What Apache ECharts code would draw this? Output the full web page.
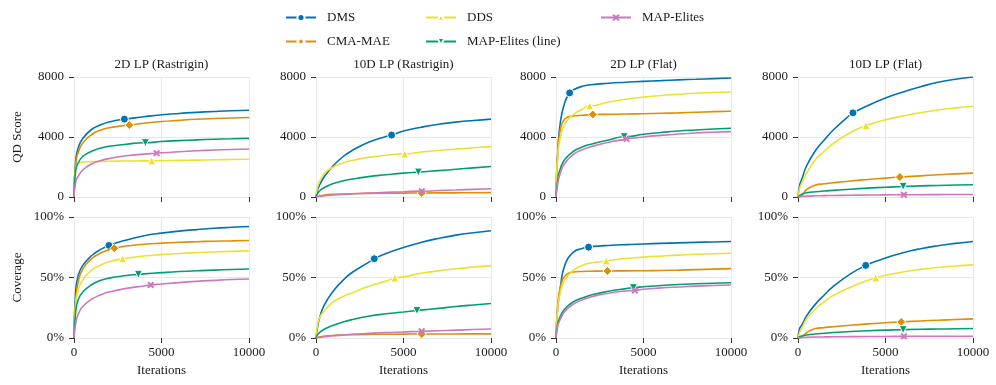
<!DOCTYPE html>
<html>
<head>
<meta charset="utf-8">
<script src="https://cdn.jsdelivr.net/npm/echarts@6/dist/echarts.min.js"></script>
<style>
html, body { margin: 0; padding: 0; background: #fff; }
#chart { width: 996px; height: 385px; }
</style>
</head>
<body>
<div id="chart"></div>
<script>
// Methods, in plotting / legend order.
const METHODS = ["DMS", "CMA-MAE", "DDS", "MAP-Elites (line)", "MAP-Elites"];
const COLORS = ["#0173b2", "#de8f05", "#ece133", "#029e73", "#cc78bc"];
const TITLES = ["2D LP (Rastrigin)", "10D LP (Rastrigin)", "2D LP (Flat)", "10D LP (Flat)"];

const ITERS = [0, 100, 250, 500, 1000, 1500, 2000, 3000, 4000, 5000, 6000, 7000, 8000, 9000, 10000];

// QD score, one row per method (METHODS order).
const QD_2D_RAST = [
    [0, 2500, 3300, 3900, 4500, 4800, 5000, 5200, 5350, 5480, 5570, 5640, 5700, 5750, 5780],
    [0, 2300, 3000, 3600, 4150, 4450, 4620, 4780, 4920, 5030, 5110, 5180, 5230, 5270, 5300],
    [0, 2000, 2250, 2330, 2360, 2370, 2380, 2400, 2410, 2420, 2440, 2460, 2480, 2500, 2520],
    [0, 1800, 2300, 2700, 3050, 3250, 3380, 3520, 3620, 3700, 3760, 3810, 3850, 3880, 3910],
    [0, 1000, 1400, 1800, 2200, 2420, 2560, 2750, 2860, 2950, 3020, 3080, 3130, 3170, 3200]
];
const QD_10D_RAST = [
    [0, 500, 900, 1400, 2100, 2650, 3050, 3650, 4030, 4400, 4650, 4850, 4990, 5100, 5190],
    [0, 40, 80, 130, 180, 205, 220, 240, 250, 260, 265, 272, 278, 284, 290],
    [0, 700, 1150, 1600, 2000, 2250, 2420, 2640, 2780, 2880, 3000, 3100, 3190, 3280, 3360],
    [0, 250, 450, 650, 900, 1060, 1180, 1360, 1480, 1590, 1670, 1760, 1850, 1940, 2030],
    [0, 40, 60, 90, 130, 170, 200, 260, 310, 350, 390, 430, 470, 510, 550]
];
const QD_2D_FLAT = [
    [0, 3000, 5000, 6300, 7150, 7380, 7480, 7580, 7650, 7710, 7760, 7810, 7850, 7890, 7930],
    [0, 3000, 4500, 5200, 5400, 5450, 5490, 5510, 5530, 5550, 5580, 5610, 5650, 5690, 5720],
    [0, 2800, 4000, 4900, 5500, 5850, 6080, 6330, 6520, 6660, 6770, 6850, 6920, 6970, 7000],
    [0, 1200, 1900, 2500, 3050, 3330, 3520, 3800, 4020, 4180, 4300, 4400, 4470, 4530, 4580],
    [0, 900, 1600, 2250, 2850, 3150, 3350, 3650, 3860, 4000, 4110, 4200, 4270, 4320, 4360]
];
const QD_10D_FLAT = [
    [0, 800, 1300, 2100, 3100, 3800, 4450, 5500, 6100, 6600, 7000, 7350, 7650, 7850, 8000],
    [0, 0, 150, 500, 800, 880, 950, 1070, 1170, 1260, 1340, 1410, 1480, 1540, 1590],
    [0, 600, 1000, 1600, 2500, 3050, 3550, 4300, 4820, 5150, 5400, 5620, 5800, 5940, 6050],
    [0, 100, 200, 280, 350, 400, 440, 520, 590, 650, 700, 740, 770, 800, 820],
    [0, 20, 40, 60, 80, 90, 100, 115, 130, 140, 150, 155, 160, 165, 170]
];

// Coverage in percent.
const COV_2D_RAST = [
    [0, 40, 52, 60, 68, 73, 76.5, 81, 84.5, 86.7, 88.3, 89.6, 90.7, 91.5, 92.2],
    [0, 32, 47, 57, 65.5, 70, 73, 76, 77.5, 78.4, 79.1, 79.6, 80, 80.3, 80.6],
    [0, 30, 40, 48, 56, 60, 63, 66, 67.8, 68.9, 69.8, 70.5, 71.1, 71.6, 72],
    [0, 22, 32, 38, 44, 47.5, 49.5, 51.6, 53, 54, 54.9, 55.6, 56.1, 56.6, 57],
    [0, 12, 20, 26, 32, 35.5, 38, 41, 43, 44.6, 45.8, 46.8, 47.6, 48.3, 48.8]
];
const COV_10D_RAST = [
    [0, 10, 19, 28, 39, 47, 53.5, 62.5, 69.8, 74.8, 79, 82.3, 85, 87, 88.6],
    [0, 0.5, 1, 1.6, 2.2, 2.5, 2.7, 3, 3.1, 3.2, 3.3, 3.3, 3.35, 3.4, 3.4],
    [0, 12, 18, 23, 30, 34, 37, 42.5, 47, 50.5, 53.5, 55.5, 57.2, 58.6, 59.8],
    [0, 3, 5, 7.5, 10.5, 13, 15, 18, 20, 21.5, 23, 24.5, 26, 27.3, 28.5],
    [0, 0.3, 0.6, 1, 1.8, 2.4, 3, 3.8, 4.5, 5, 5.5, 6, 6.5, 7, 7.5]
];
const COV_2D_FLAT = [
    [0, 25, 42, 60, 71, 74, 75.5, 76.5, 77.2, 77.7, 78.2, 78.6, 79, 79.4, 79.8],
    [0, 28, 42, 51, 54.5, 55, 55.2, 55.4, 55.5, 55.6, 55.8, 56.1, 56.5, 56.9, 57.3],
    [0, 25, 38, 48, 56, 60, 62, 64, 65.7, 66.8, 67.7, 68.5, 69.1, 69.6, 70],
    [0, 12, 18, 24, 30, 33, 35.5, 38.6, 40.8, 42.3, 43.4, 44.2, 44.8, 45.3, 45.7],
    [0, 10, 15.5, 22, 28, 31.5, 34, 37, 38.9, 40.3, 41.4, 42.2, 42.9, 43.4, 43.8]
];
const COV_10D_FLAT = [
    [0, 8, 11.5, 18.5, 28, 35.5, 42.5, 53, 60.8, 66.2, 70.5, 73.8, 76.3, 78.2, 79.8],
    [0, 0, 1, 4.5, 7.8, 8.6, 9.3, 10.6, 11.7, 12.6, 13.4, 14.1, 14.7, 15.3, 15.8],
    [0, 5, 9, 16, 24, 30, 35, 42, 47.7, 51.8, 54.6, 56.7, 58.3, 59.5, 60.4],
    [0, 1, 1.8, 2.5, 3.3, 3.9, 4.5, 5.4, 6, 6.5, 6.9, 7.2, 7.4, 7.6, 7.8],
    [0, 0.2, 0.4, 0.6, 0.8, 0.9, 1, 1.1, 1.2, 1.3, 1.35, 1.4, 1.45, 1.5, 1.5]
];

// The single marker drawn on each curve: [iteration, value].
const QD_2D_RAST_MARK = [[2880, 5190], [3160, 4800], [4440, 2410], [4080, 3620], [4720, 2920]];
const QD_10D_RAST_MARK = [[4320, 4130], [6040, 265], [5070, 2870], [5850, 1660], [6050, 380]];
const QD_2D_FLAT_MARK = [[780, 6940], [2100, 5500], [1930, 6080], [3900, 4020], [4030, 3870]];
const QD_10D_FLAT_MARK = [[3140, 5610], [5820, 1330], [3890, 4770], [6010, 710], [6050, 150]];
const COV_2D_RAST_MARK = [[2000, 76.5], [2300, 74.2], [2780, 65.4], [3680, 52.6], [4380, 43.8]];
const COV_10D_RAST_MARK = [[3330, 65.5], [6040, 3.3], [4510, 49.6], [5770, 22.7], [6040, 5.5]];
const COV_2D_FLAT_MARK = [[1860, 75.1], [2940, 55.4], [2870, 63.7], [4420, 41.6], [4510, 39.3]];
const COV_10D_FLAT_MARK = [[3870, 60], [5900, 13.3], [4440, 49.6], [6010, 6.9], [6050, 1.4]];

const FONT = "Liberation Serif";
const TEXT = "#1a1a1a";
const GRIDLINE = "#e8e8e8";

const SYMBOLS = [
    "circle",
    "diamond",
    "triangle",
    "path://M0,0L10,0L5,10Z",
    "path://M0,2L2,0L5,3L8,0L10,2L7,5L10,8L8,10L5,7L2,10L0,8L3,5Z"
];
const SYMBOL_SIZES = [8, 9, 8, 8, 7];

const PANELS = [
    [QD_2D_RAST, QD_2D_RAST_MARK], [QD_10D_RAST, QD_10D_RAST_MARK],
    [QD_2D_FLAT, QD_2D_FLAT_MARK], [QD_10D_FLAT, QD_10D_FLAT_MARK],
    [COV_2D_RAST, COV_2D_RAST_MARK], [COV_10D_RAST, COV_10D_RAST_MARK],
    [COV_2D_FLAT, COV_2D_FLAT_MARK], [COV_10D_FLAT, COV_10D_FLAT_MARK]
];

const COL_LEFT = [74, 316, 556, 798];
const COL_W = 175;
const ROW_TOP = [77, 217];
const ROW_H = [120, 121];

// Curve points without symbols, plus one point that carries the marker.
const buildData = (vals, mark) => {
    const pts = ITERS.map((x, i) => ({ value: [x, vals[i]], symbol: "none" }));
    const same = pts.findIndex(p => p.value[0] === mark[0]);
    if (same >= 0) {
        pts[same] = { value: mark };
    } else {
        const k = pts.findIndex(p => p.value[0] > mark[0]);
        pts.splice(k, 0, { value: mark });
    }
    return pts;
};

const grids = [], xAxes = [], yAxes = [], series = [];
PANELS.forEach(([rows, marks], p) => {
    const r = Math.floor(p / 4), c = p % 4;
    grids.push({ left: COL_LEFT[c], top: ROW_TOP[r], width: COL_W, height: ROW_H[r] });
    xAxes.push({
        gridIndex: p, type: "value", min: 0, max: 10000, interval: 5000,
        axisLine: { show: false },
        axisTick: { show: true, length: 5, lineStyle: { color: "#333", width: 1 } },
        axisLabel: {
            show: r === 1, color: TEXT, fontFamily: FONT, fontSize: 13, margin: 8,
            formatter: v => String(v)
        },
        splitLine: { show: true, lineStyle: { color: GRIDLINE, width: 1 } },
        name: r === 1 ? "Iterations" : "",
        nameLocation: "middle", nameGap: 26,
        nameTextStyle: { color: TEXT, fontFamily: FONT, fontSize: 13 }
    });
    yAxes.push({
        gridIndex: p, type: "value", min: 0,
        max: r === 0 ? 8000 : 100, interval: r === 0 ? 4000 : 50,
        axisLine: { show: false },
        axisTick: { show: true, length: 5, lineStyle: { color: "#333", width: 1 } },
        axisLabel: {
            color: TEXT, fontFamily: FONT, fontSize: 13, margin: 10,
            formatter: v => r === 0 ? String(v) : v + "%"
        },
        splitLine: { show: true, lineStyle: { color: GRIDLINE, width: 1 } },
        name: c === 0 ? (r === 0 ? "QD Score" : "Coverage") : "",
        nameLocation: "middle", nameGap: 50,
        nameTextStyle: { color: TEXT, fontFamily: FONT, fontSize: 13 }
    });
    METHODS.forEach((name, m) => {
        series.push({
            type: "line", name,
            xAxisIndex: p, yAxisIndex: p,
            data: buildData(rows[m], marks[m]),
            smooth: 0.5,
            symbol: SYMBOLS[m], symbolSize: SYMBOL_SIZES[m],
            showSymbol: true, showAllSymbol: true,
            lineStyle: { color: COLORS[m], width: 1.6 },
            itemStyle: { color: COLORS[m], borderColor: "#fff", borderWidth: m === 4 ? 0 : 1 },
            emphasis: { disabled: true },
            z: 2 + m
        });
    });
});

// Legend laid out as three columns, filled column by column.
const LEGEND_POS = [[285, 11], [285, 35], [425, 11], [425, 35], [600, 11]];
const legends = METHODS.map((name, m) => ({
    data: [name],
    left: LEGEND_POS[m][0], top: LEGEND_POS[m][1],
    padding: 0, itemWidth: 30, itemHeight: 9,
    textStyle: { color: TEXT, fontFamily: FONT, fontSize: 13, padding: [0, 0, 0, 6] },
    selectedMode: false
}));

const titles = TITLES.map((t, c) => ({
    type: "text",
    x: COL_LEFT[c] + COL_W / 2, y: 58,
    style: { text: t, textAlign: "center", fill: TEXT, font: "13px '" + FONT + "'" }
}));

const chart = echarts.init(document.getElementById("chart"), null, { renderer: "canvas" });
chart.setOption({
    backgroundColor: "#fff",
    animation: false,
    legend: legends,
    grid: grids,
    xAxis: xAxes,
    yAxis: yAxes,
    graphic: titles,
    series
});
</script>
</body>
</html>
